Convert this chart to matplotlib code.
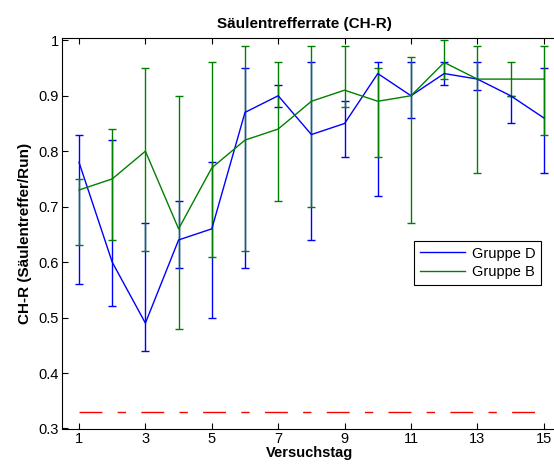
import matplotlib
matplotlib.use('Agg')
import matplotlib.pyplot as plt
from matplotlib.lines import Line2D
import numpy as np

plt.rcParams['font.family'] = ['Liberation Sans', 'DejaVu Sans']

tage = np.arange(1, 16)

# Gruppe D: Mittelwert, obere und untere Fehlergrenze
d_mean = [0.78, 0.60, 0.49, 0.64, 0.66, 0.87, 0.90, 0.83, 0.85, 0.94, 0.90, 0.94, 0.93, 0.90, 0.86]
d_hi   = [0.83, 0.82, 0.67, 0.71, 0.78, 0.95, 0.92, 0.96, 0.89, 0.96, 0.96, 0.96, 0.96, 0.90, 0.95]
d_lo   = [0.56, 0.52, 0.44, 0.59, 0.50, 0.59, 0.88, 0.64, 0.79, 0.72, 0.86, 0.92, 0.91, 0.85, 0.76]

# Gruppe B
b_mean = [0.73, 0.75, 0.80, 0.66, 0.77, 0.82, 0.84, 0.89, 0.91, 0.89, 0.90, 0.96, 0.93, 0.93, 0.93]
b_hi   = [0.75, 0.84, 0.95, 0.90, 0.96, 0.99, 0.96, 0.99, 0.99, 0.95, 0.97, 1.00, 0.99, 0.96, 0.99]
b_lo   = [0.63, 0.64, 0.62, 0.48, 0.61, 0.62, 0.71, 0.70, 0.88, 0.79, 0.67, 0.93, 0.76, 0.90, 0.83]

zufall = 0.33  # Zufallsniveau

blau = (0, 0, 1)
gruen = (0, 0.5, 0)

fig = plt.figure(figsize=(5.54, 4.71), dpi=100)
ax = fig.add_axes([62.4/554, 1 - 428.5/471, 498/554, 391/471])

d_mean = np.array(d_mean); b_mean = np.array(b_mean)
d_err = [d_mean - np.array(d_lo), np.array(d_hi) - d_mean]
b_err = [b_mean - np.array(b_lo), np.array(b_hi) - b_mean]

ax.errorbar(tage, d_mean, yerr=d_err, color=blau, lw=1, elinewidth=1,
            capsize=3.2, capthick=1)
ax.errorbar(tage, b_mean, yerr=b_err, color=gruen, lw=1, elinewidth=1,
            capsize=3.2, capthick=1)

ax.plot([tage[0], tage[-1]], [zufall, zufall], color='red', lw=1,
        dashes=(16.5, 11, 6, 11))

ax.set_xlim(0.5, 15.5)
ax.set_ylim(0.3, 1.005)
ax.set_xticks(np.arange(1, 16, 2))
ax.set_yticks([0.3, 0.4, 0.5, 0.6, 0.7, 0.8, 0.9, 1.0])
ax.set_yticklabels(['0.3', '0.4', '0.5', '0.6', '0.7', '0.8', '0.9', '1'])
ax.tick_params(direction='in', top=True, right=True, length=4, width=0.8,
               labelsize=10.5, pad=2.5)
for s in ax.spines.values():
    s.set_linewidth(0.8)

ax.set_title('Säulentrefferrate (CH-R)', fontsize=11, fontweight='bold', pad=6.5,
             x=0.486)
ax.set_xlabel('Versuchstag', fontsize=10.5, fontweight='bold', labelpad=2)
ax.xaxis.set_label_coords(0.496, -0.045)
ax.xaxis.label.set_va('top')
ax.set_ylabel('CH-R (Säulentreffer/Run)', fontsize=11, fontweight='bold', labelpad=5)

handles = [Line2D([], [], color=blau, lw=1), Line2D([], [], color=gruen, lw=1)]
leg = ax.legend(handles, ['Gruppe D', 'Gruppe B'], loc='upper right',
                bbox_to_anchor=((541 - 62.4)/498, 1 - (240.7 - 37.5)/391),
                fontsize=10.5, fancybox=False, framealpha=1, edgecolor='black',
                borderaxespad=0, handlelength=3.1, handletextpad=0.45,
                borderpad=0.4, labelspacing=0.3)
leg.get_frame().set_linewidth(0.8)

fig.savefig('out.png', dpi=100)
